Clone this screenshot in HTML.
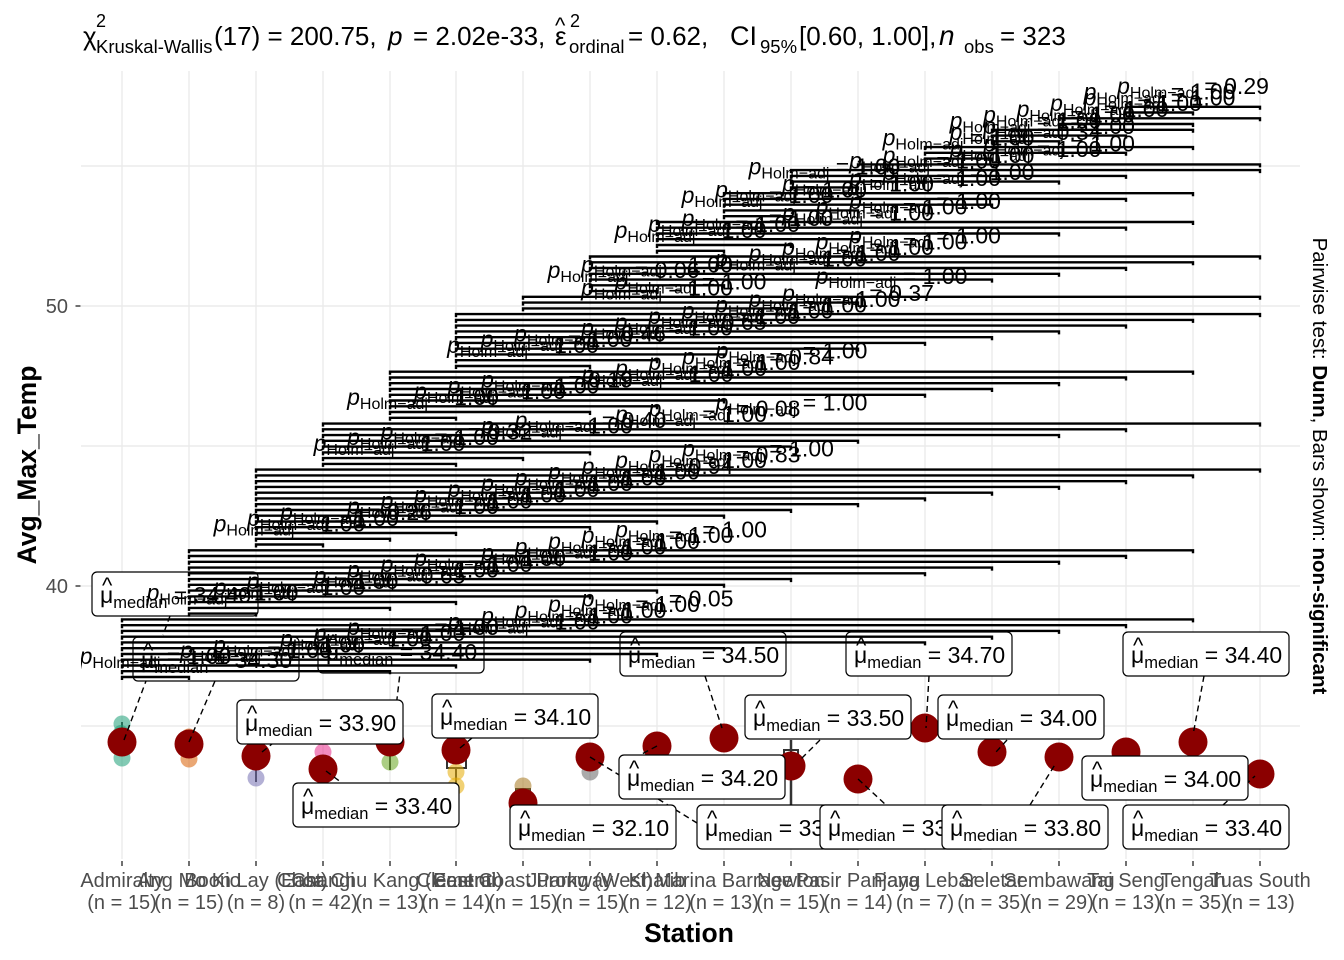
<!DOCTYPE html>
<html><head><meta charset="utf-8"><style>
html,body{margin:0;padding:0;background:#fff}
svg{display:block;font-family:"Liberation Sans",Arial,sans-serif}
.g{stroke:#EBEBEB;stroke-width:1.4}
.br{fill:none;stroke:#000;stroke-width:2.4}
text.p{font-size:23px;text-anchor:middle}
.i{font-style:italic}
.s{font-size:16px}
.s2{font-size:16.5px}
.lb rect{fill:#fff;stroke:#000;stroke-width:1.2}
.lb text{font-size:23px}
.lb text.h{font-size:22px}
.seg{stroke:#000;stroke-width:1.4;stroke-dasharray:6 4;fill:none}
.tk{font-size:20px;fill:#4D4D4D}
.xt{font-size:20px;fill:#4D4D4D;text-anchor:middle}
</style></head><body>
<svg width="1344" height="960" viewBox="0 0 1344 960" xmlns="http://www.w3.org/2000/svg">
<rect width="1344" height="960" fill="#fff"/>
<defs><clipPath id="pc"><rect x="81" y="71" width="1219" height="788"/></clipPath></defs>

<!-- title -->
<g font-size="26">
<text x="83" y="45">χ</text>
<text x="96" y="27" font-size="18">2</text>
<text x="96" y="53" font-size="18.5">Kruskal-Wallis</text>
<text x="214" y="45">(17) = 200.75,</text>
<text x="388" y="45" font-style="italic">p</text>
<text x="413" y="45">= 2.02e-33,</text>
<text x="555" y="45">ε</text>
<text x="555" y="33" font-size="22">^</text>
<text x="570" y="27" font-size="18">2</text>
<text x="569" y="53" font-size="18.5">ordinal</text>
<text x="628" y="45">= 0.62,</text>
<text x="730" y="45" font-size="27">CI</text>
<text x="760" y="53" font-size="18.5">95%</text>
<text x="799" y="45">[0.60, 1.00],</text>
<text x="939" y="45" font-style="italic" font-size="28">n</text>
<text x="964" y="53" font-size="18.5">obs</text>
<text x="1000" y="45">= 323</text>
</g>

<!-- grid -->
<g class="g">
<line x1="81" y1="166" x2="1300" y2="166"/>
<line x1="81" y1="306" x2="1300" y2="306"/>
<line x1="81" y1="446" x2="1300" y2="446"/>
<line x1="81" y1="586" x2="1300" y2="586"/>
<line x1="81" y1="726" x2="1300" y2="726"/>
<line x1="122" y1="71" x2="122" y2="859"/>
<line x1="189" y1="71" x2="189" y2="859"/>
<line x1="256" y1="71" x2="256" y2="859"/>
<line x1="323" y1="71" x2="323" y2="859"/>
<line x1="390" y1="71" x2="390" y2="859"/>
<line x1="456" y1="71" x2="456" y2="859"/>
<line x1="523" y1="71" x2="523" y2="859"/>
<line x1="590" y1="71" x2="590" y2="859"/>
<line x1="657" y1="71" x2="657" y2="859"/>
<line x1="724" y1="71" x2="724" y2="859"/>
<line x1="791" y1="71" x2="791" y2="859"/>
<line x1="858" y1="71" x2="858" y2="859"/>
<line x1="925" y1="71" x2="925" y2="859"/>
<line x1="992" y1="71" x2="992" y2="859"/>
<line x1="1059" y1="71" x2="1059" y2="859"/>
<line x1="1126" y1="71" x2="1126" y2="859"/>
<line x1="1193" y1="71" x2="1193" y2="859"/>
<line x1="1260" y1="71" x2="1260" y2="859"/>
</g>

<!-- axes ticks -->
<g stroke="#333" stroke-width="1.4">
<line x1="75.5" y1="306" x2="80.5" y2="306"/>
<line x1="75.5" y1="586" x2="80.5" y2="586"/>
<path d="M122 861V866M189 861V866M256 861V866M323 861V866M390 861V866M456 861V866M523 861V866M590 861V866M657 861V866M724 861V866M791 861V866M858 861V866M925 861V866M992 861V866M1059 861V866M1126 861V866M1193 861V866M1260 861V866"/>
</g>
<text class="tk" x="68" y="313" text-anchor="end">50</text>
<text class="tk" x="68" y="593" text-anchor="end">40</text>

<g clip-path="url(#pc)">
<!-- boxplot bits & jitter -->
<g stroke="#333" stroke-width="2" fill="none">
<rect x="447" y="757" width="19" height="11"/>
<line x1="456" y1="768" x2="456" y2="792"/>
<line x1="791" y1="740" x2="791" y2="805" stroke-width="2.5"/>
<rect x="784" y="750" width="14" height="16"/>
<rect x="516" y="789" width="14" height="8"/>
<line x1="122" y1="722" x2="122" y2="730"/>
<line x1="256" y1="770" x2="256" y2="782"/>
<line x1="390" y1="756" x2="390" y2="770"/>
</g>
<g fill-opacity="0.55">
<circle cx="122" cy="724" r="8.5" fill="#1B9E77"/>
<circle cx="122" cy="758" r="8.5" fill="#1B9E77"/>
<circle cx="121" cy="733" r="8" fill="#1B9E77"/>
<circle cx="189" cy="737" r="8.5" fill="#D95F02"/>
<circle cx="189" cy="759" r="8.5" fill="#D95F02"/>
<circle cx="256" cy="778" r="8.5" fill="#7570B3"/>
<circle cx="323" cy="752" r="8.5" fill="#E7298A"/>
<circle cx="390" cy="762" r="8.5" fill="#66A61E"/>
<circle cx="456" cy="772" r="8.5" fill="#E6AB02"/>
<circle cx="456" cy="786" r="8.5" fill="#E6AB02"/>
<circle cx="523" cy="786" r="8.5" fill="#A6761D"/>
<circle cx="590" cy="772" r="8.5" fill="#666666"/>
</g>
<!-- median points -->
<g fill="#8B0000">
<circle cx="122" cy="742" r="14.5"/>
<circle cx="189" cy="744" r="14.5"/>
<circle cx="256" cy="756" r="14.5"/>
<circle cx="323" cy="769" r="14.5"/>
<circle cx="390" cy="742" r="14.5"/>
<circle cx="456" cy="750" r="14.5"/>
<circle cx="523" cy="803" r="14.5"/>
<circle cx="590" cy="757" r="14.5"/>
<circle cx="657" cy="746" r="14.5"/>
<circle cx="724" cy="738" r="14.5"/>
<circle cx="791" cy="766" r="14.5"/>
<circle cx="858" cy="779" r="14.5"/>
<circle cx="925" cy="728" r="14.5"/>
<circle cx="992" cy="752" r="14.5"/>
<circle cx="1059" cy="757" r="14.5"/>
<circle cx="1126" cy="752" r="14.5"/>
<circle cx="1193" cy="742" r="14.5"/>
<circle cx="1260" cy="774" r="14.5"/>
</g>

<!-- label segments -->
<path class="seg" d="M124 740L146 681M189 742L215 681M170 616L163 635M262 752L272 744M326 771L342 783M392 742L400 673M460 748L472 738M590 757L697 823M657 746L640 755M705 676L722 728M820 740L800 760M858 779L886 805M929 676L926 728M1007 740L996 752M1030 805L1056 763M1204 676L1193 735M1223 805L1255 776"/>

<!-- median labels -->
<g class="lb">
<rect x="133" y="637" width="166" height="44" rx="5"/><text class="h" x="143" y="658">^</text><text x="141" y="668">μ<tspan class="s2" dy="5">median</tspan><tspan dy="-5"> = 34.30</tspan></text>
<rect x="92" y="572" width="166" height="44" rx="5"/><text class="h" x="102" y="593">^</text><text x="100" y="603">μ<tspan class="s2" dy="5">median</tspan><tspan dy="-5"> = 34.40</tspan></text>
<rect x="237" y="700" width="166" height="44" rx="5"/><text class="h" x="247" y="721">^</text><text x="245" y="731">μ<tspan class="s2" dy="5">median</tspan><tspan dy="-5"> = 33.90</tspan></text>
<rect x="293" y="783" width="166" height="44" rx="5"/><text class="h" x="303" y="804">^</text><text x="301" y="814">μ<tspan class="s2" dy="5">median</tspan><tspan dy="-5"> = 33.40</tspan></text>
<rect x="318" y="629" width="166" height="44" rx="5"/><text class="h" x="328" y="650">^</text><text x="326" y="660">μ<tspan class="s2" dy="5">median</tspan><tspan dy="-5"> = 34.40</tspan></text>
<rect x="432" y="694" width="166" height="44" rx="5"/><text class="h" x="442" y="715">^</text><text x="440" y="725">μ<tspan class="s2" dy="5">median</tspan><tspan dy="-5"> = 34.10</tspan></text>
<rect x="510" y="805" width="166" height="44" rx="5"/><text class="h" x="520" y="826">^</text><text x="518" y="836">μ<tspan class="s2" dy="5">median</tspan><tspan dy="-5"> = 32.10</tspan></text>
<rect x="619" y="755" width="166" height="44" rx="5"/><text class="h" x="629" y="776">^</text><text x="627" y="786">μ<tspan class="s2" dy="5">median</tspan><tspan dy="-5"> = 34.20</tspan></text>
<rect x="697" y="805" width="166" height="44" rx="5"/><text class="h" x="707" y="826">^</text><text x="705" y="836">μ<tspan class="s2" dy="5">median</tspan><tspan dy="-5"> = 33.80</tspan></text>
<rect x="620" y="632" width="166" height="44" rx="5"/><text class="h" x="630" y="653">^</text><text x="628" y="663">μ<tspan class="s2" dy="5">median</tspan><tspan dy="-5"> = 34.50</tspan></text>
<rect x="745" y="695" width="166" height="44" rx="5"/><text class="h" x="755" y="716">^</text><text x="753" y="726">μ<tspan class="s2" dy="5">median</tspan><tspan dy="-5"> = 33.50</tspan></text>
<rect x="820" y="805" width="166" height="44" rx="5"/><text class="h" x="830" y="826">^</text><text x="828" y="836">μ<tspan class="s2" dy="5">median</tspan><tspan dy="-5"> = 33.60</tspan></text>
<rect x="846" y="632" width="166" height="44" rx="5"/><text class="h" x="856" y="653">^</text><text x="854" y="663">μ<tspan class="s2" dy="5">median</tspan><tspan dy="-5"> = 34.70</tspan></text>
<rect x="938" y="695" width="166" height="44" rx="5"/><text class="h" x="948" y="716">^</text><text x="946" y="726">μ<tspan class="s2" dy="5">median</tspan><tspan dy="-5"> = 34.00</tspan></text>
<rect x="942" y="805" width="166" height="44" rx="5"/><text class="h" x="952" y="826">^</text><text x="950" y="836">μ<tspan class="s2" dy="5">median</tspan><tspan dy="-5"> = 33.80</tspan></text>
<rect x="1082" y="756" width="166" height="44" rx="5"/><text class="h" x="1092" y="777">^</text><text x="1090" y="787">μ<tspan class="s2" dy="5">median</tspan><tspan dy="-5"> = 34.00</tspan></text>
<rect x="1123" y="632" width="166" height="44" rx="5"/><text class="h" x="1133" y="653">^</text><text x="1131" y="663">μ<tspan class="s2" dy="5">median</tspan><tspan dy="-5"> = 34.40</tspan></text>
<rect x="1123" y="805" width="166" height="44" rx="5"/><text class="h" x="1133" y="826">^</text><text x="1131" y="836">μ<tspan class="s2" dy="5">median</tspan><tspan dy="-5"> = 33.40</tspan></text>
</g>

<!-- brackets -->
<path class="br" d="M122 680V677H189V680M122 674.2V671.2H390V674.2M122 668.5V665.5H456V668.5M122 662.7V659.7H590V662.7M122 657V654H657V657M122 651.2V648.2H724V651.2M122 645.4V642.4H925V645.4M122 639.7V636.7H992V639.7M122 633.9V630.9H1059V633.9M122 628.2V625.2H1126V628.2M122 622.4V619.4H1193V622.4M189 616.6V613.6H256V616.6M189 610.9V607.9H390V610.9M189 605.1V602.1H456V605.1M189 599.4V596.4H590V599.4M189 593.6V590.6H657V593.6M189 587.8V584.8H724V587.8M189 582.1V579.1H791V582.1M189 576.3V573.3H925V576.3M189 570.6V567.6H992V570.6M189 564.8V561.8H1059V564.8M189 559V556H1126V559M189 553.3V550.3H1193V553.3M256 547.5V544.5H323V547.5M256 541.8V538.8H390V541.8M256 536V533H456V536M256 530.2V527.2H590V530.2M256 524.5V521.5H657V524.5M256 518.7V515.7H724V518.7M256 513V510H791V513M256 507.2V504.2H858V507.2M256 501.4V498.4H925V501.4M256 495.7V492.7H992V495.7M256 489.9V486.9H1059V489.9M256 484.2V481.2H1126V484.2M256 478.4V475.4H1193V478.4M256 472.6V469.6H1260V472.6M323 466.9V463.9H456V466.9M323 461.1V458.1H523V461.1M323 455.4V452.4H590V455.4M323 449.6V446.6H791V449.6M323 443.8V440.8H858V443.8M323 438.1V435.1H1059V438.1M323 432.3V429.3H1126V432.3M323 426.6V423.6H1260V426.6M390 420.8V417.8H456V420.8M390 415V412H590V415M390 409.3V406.3H657V409.3M390 403.5V400.5H724V403.5M390 397.8V394.8H925V397.8M390 392V389H992V392M390 386.2V383.2H1059V386.2M390 380.5V377.5H1126V380.5M390 374.7V371.7H1193V374.7M456 369V366H590V369M456 363.2V360.2H657V363.2M456 357.4V354.4H724V357.4M456 351.7V348.7H858V351.7M456 345.9V342.9H925V345.9M456 340.2V337.2H992V340.2M456 334.4V331.4H1059V334.4M456 328.6V325.6H1126V328.6M456 322.9V319.9H1193V322.9M456 317.1V314.1H1260V317.1M523 311.4V308.4H791V311.4M523 305.6V302.6H858V305.6M523 299.8V296.8H1260V299.8M590 294.1V291.1H657V294.1M590 288.3V285.3H724V288.3M590 282.6V279.6H992V282.6M590 276.8V273.8H1059V276.8M590 271V268H1126V271M590 265.3V262.3H1193V265.3M590 259.5V256.5H1260V259.5M657 253.8V250.8H724V253.8M657 248V245H791V248M657 242.2V239.2H858V242.2M657 236.5V233.5H1059V236.5M657 230.7V227.7H1126V230.7M657 225V222H1193V225M724 219.2V216.2H791V219.2M724 213.4V210.4H858V213.4M724 207.7V204.7H992V207.7M724 201.9V198.9H1126V201.9M724 196.2V193.2H1193V196.2M791 190.4V187.4H858V190.4M791 184.6V181.6H1059V184.6M791 178.9V175.9H1126V178.9M791 173.1V170.1H1260V173.1M858 167.4V164.4H1260V167.4M925 161.6V158.6H992V161.6M925 155.8V152.8H1126V155.8M925 150.1V147.1H1193V150.1M992 144.3V141.3H1059V144.3M992 138.6V135.6H1126V138.6M992 132.8V129.8H1193V132.8M1059 127V124H1193V127M1059 121.3V118.3H1260V121.3M1126 115.5V112.5H1193V115.5M1126 109.8V106.8H1260V109.8"/>

<!-- bracket labels -->
<g>
<text class="p" x="155.5" y="664"><tspan class="i">p</tspan><tspan class="s" dy="4">Holm−adj</tspan><tspan dy="-4"> = 1.00</tspan></text>
<text class="p" x="256" y="658.2"><tspan class="i">p</tspan><tspan class="s" dy="4">Holm−adj</tspan><tspan dy="-4"> = 1.00</tspan></text>
<text class="p" x="289" y="652.5"><tspan class="i">p</tspan><tspan class="s" dy="4">Holm−adj</tspan><tspan dy="-4"> = 1.00</tspan></text>
<text class="p" x="356" y="646.7"><tspan class="i">p</tspan><tspan class="s" dy="4">Holm−adj</tspan><tspan dy="-4"> = 1.00</tspan></text>
<text class="p" x="389.5" y="641"><tspan class="i">p</tspan><tspan class="s" dy="4">Holm−adj</tspan><tspan dy="-4"> = 1.00</tspan></text>
<text class="p" x="423" y="635.2"><tspan class="i">p</tspan><tspan class="s" dy="4">Holm−adj</tspan><tspan dy="-4"> = 1.00</tspan></text>
<text class="p" x="523.5" y="629.4"><tspan class="i">p</tspan><tspan class="s" dy="4">Holm−adj</tspan><tspan dy="-4"> = 1.00</tspan></text>
<text class="p" x="557" y="623.7"><tspan class="i">p</tspan><tspan class="s" dy="4">Holm−adj</tspan><tspan dy="-4"> = 1.00</tspan></text>
<text class="p" x="590.5" y="617.9"><tspan class="i">p</tspan><tspan class="s" dy="4">Holm−adj</tspan><tspan dy="-4"> = 1.00</tspan></text>
<text class="p" x="624" y="612.2"><tspan class="i">p</tspan><tspan class="s" dy="4">Holm−adj</tspan><tspan dy="-4"> = 1.00</tspan></text>
<text class="p" x="657.5" y="606.4"><tspan class="i">p</tspan><tspan class="s" dy="4">Holm−adj</tspan><tspan dy="-4"> = 0.05</tspan></text>
<text class="p" x="222.5" y="600.6"><tspan class="i">p</tspan><tspan class="s" dy="4">Holm−adj</tspan><tspan dy="-4"> = 1.00</tspan></text>
<text class="p" x="289.5" y="594.9"><tspan class="i">p</tspan><tspan class="s" dy="4">Holm−adj</tspan><tspan dy="-4"> = 1.00</tspan></text>
<text class="p" x="322.5" y="589.1"><tspan class="i">p</tspan><tspan class="s" dy="4">Holm−adj</tspan><tspan dy="-4"> = 1.00</tspan></text>
<text class="p" x="389.5" y="583.4"><tspan class="i">p</tspan><tspan class="s" dy="4">Holm−adj</tspan><tspan dy="-4"> = 0.65</tspan></text>
<text class="p" x="423" y="577.6"><tspan class="i">p</tspan><tspan class="s" dy="4">Holm−adj</tspan><tspan dy="-4"> = 1.00</tspan></text>
<text class="p" x="456.5" y="571.8"><tspan class="i">p</tspan><tspan class="s" dy="4">Holm−adj</tspan><tspan dy="-4"> = 1.00</tspan></text>
<text class="p" x="490" y="566.1"><tspan class="i">p</tspan><tspan class="s" dy="4">Holm−adj</tspan><tspan dy="-4"> = 1.00</tspan></text>
<text class="p" x="557" y="560.3"><tspan class="i">p</tspan><tspan class="s" dy="4">Holm−adj</tspan><tspan dy="-4"> = 1.00</tspan></text>
<text class="p" x="590.5" y="554.6"><tspan class="i">p</tspan><tspan class="s" dy="4">Holm−adj</tspan><tspan dy="-4"> = 1.00</tspan></text>
<text class="p" x="624" y="548.8"><tspan class="i">p</tspan><tspan class="s" dy="4">Holm−adj</tspan><tspan dy="-4"> = 1.00</tspan></text>
<text class="p" x="657.5" y="543"><tspan class="i">p</tspan><tspan class="s" dy="4">Holm−adj</tspan><tspan dy="-4"> = 1.00</tspan></text>
<text class="p" x="691" y="537.3"><tspan class="i">p</tspan><tspan class="s" dy="4">Holm−adj</tspan><tspan dy="-4"> = 1.00</tspan></text>
<text class="p" x="289.5" y="531.5"><tspan class="i">p</tspan><tspan class="s" dy="4">Holm−adj</tspan><tspan dy="-4"> = 1.00</tspan></text>
<text class="p" x="323" y="525.8"><tspan class="i">p</tspan><tspan class="s" dy="4">Holm−adj</tspan><tspan dy="-4"> = 1.00</tspan></text>
<text class="p" x="356" y="520"><tspan class="i">p</tspan><tspan class="s" dy="4">Holm−adj</tspan><tspan dy="-4"> = 0.26</tspan></text>
<text class="p" x="423" y="514.2"><tspan class="i">p</tspan><tspan class="s" dy="4">Holm−adj</tspan><tspan dy="-4"> = 1.00</tspan></text>
<text class="p" x="456.5" y="508.5"><tspan class="i">p</tspan><tspan class="s" dy="4">Holm−adj</tspan><tspan dy="-4"> = 1.00</tspan></text>
<text class="p" x="490" y="502.7"><tspan class="i">p</tspan><tspan class="s" dy="4">Holm−adj</tspan><tspan dy="-4"> = 1.00</tspan></text>
<text class="p" x="523.5" y="497"><tspan class="i">p</tspan><tspan class="s" dy="4">Holm−adj</tspan><tspan dy="-4"> = 1.00</tspan></text>
<text class="p" x="557" y="491.2"><tspan class="i">p</tspan><tspan class="s" dy="4">Holm−adj</tspan><tspan dy="-4"> = 1.00</tspan></text>
<text class="p" x="590.5" y="485.4"><tspan class="i">p</tspan><tspan class="s" dy="4">Holm−adj</tspan><tspan dy="-4"> = 1.00</tspan></text>
<text class="p" x="624" y="479.7"><tspan class="i">p</tspan><tspan class="s" dy="4">Holm−adj</tspan><tspan dy="-4"> = 1.00</tspan></text>
<text class="p" x="657.5" y="473.9"><tspan class="i">p</tspan><tspan class="s" dy="4">Holm−adj</tspan><tspan dy="-4"> = 0.94</tspan></text>
<text class="p" x="691" y="468.2"><tspan class="i">p</tspan><tspan class="s" dy="4">Holm−adj</tspan><tspan dy="-4"> = 1.00</tspan></text>
<text class="p" x="724.5" y="462.4"><tspan class="i">p</tspan><tspan class="s" dy="4">Holm−adj</tspan><tspan dy="-4"> = 0.83</tspan></text>
<text class="p" x="758" y="456.6"><tspan class="i">p</tspan><tspan class="s" dy="4">Holm−adj</tspan><tspan dy="-4"> = 1.00</tspan></text>
<text class="p" x="389.5" y="450.9"><tspan class="i">p</tspan><tspan class="s" dy="4">Holm−adj</tspan><tspan dy="-4"> = 1.00</tspan></text>
<text class="p" x="423" y="445.1"><tspan class="i">p</tspan><tspan class="s" dy="4">Holm−adj</tspan><tspan dy="-4"> = 1.00</tspan></text>
<text class="p" x="456.5" y="439.4"><tspan class="i">p</tspan><tspan class="s" dy="4">Holm−adj</tspan><tspan dy="-4"> = 0.32</tspan></text>
<text class="p" x="557" y="433.6"><tspan class="i">p</tspan><tspan class="s" dy="4">Holm−adj</tspan><tspan dy="-4"> = 1.00</tspan></text>
<text class="p" x="590.5" y="427.8"><tspan class="i">p</tspan><tspan class="s" dy="4">Holm−adj</tspan><tspan dy="-4"> = 0.40</tspan></text>
<text class="p" x="691" y="422.1"><tspan class="i">p</tspan><tspan class="s" dy="4">Holm−adj</tspan><tspan dy="-4"> = 1.00</tspan></text>
<text class="p" x="724.5" y="416.3"><tspan class="i">p</tspan><tspan class="s" dy="4">Holm−adj</tspan><tspan dy="-4"> = 0.08</tspan></text>
<text class="p" x="791.5" y="410.6"><tspan class="i">p</tspan><tspan class="s" dy="4">Holm−adj</tspan><tspan dy="-4"> = 1.00</tspan></text>
<text class="p" x="423" y="404.8"><tspan class="i">p</tspan><tspan class="s" dy="4">Holm−adj</tspan><tspan dy="-4"> = 1.00</tspan></text>
<text class="p" x="490" y="399"><tspan class="i">p</tspan><tspan class="s" dy="4">Holm−adj</tspan><tspan dy="-4"> = 1.00</tspan></text>
<text class="p" x="523.5" y="393.3"><tspan class="i">p</tspan><tspan class="s" dy="4">Holm−adj</tspan><tspan dy="-4"> = 1.00</tspan></text>
<text class="p" x="557" y="387.5"><tspan class="i">p</tspan><tspan class="s" dy="4">Holm−adj</tspan><tspan dy="-4"> = 0.19</tspan></text>
<text class="p" x="657.5" y="381.8"><tspan class="i">p</tspan><tspan class="s" dy="4">Holm−adj</tspan><tspan dy="-4"> = 1.00</tspan></text>
<text class="p" x="691" y="376"><tspan class="i">p</tspan><tspan class="s" dy="4">Holm−adj</tspan><tspan dy="-4"> = 1.00</tspan></text>
<text class="p" x="724.5" y="370.2"><tspan class="i">p</tspan><tspan class="s" dy="4">Holm−adj</tspan><tspan dy="-4"> = 1.00</tspan></text>
<text class="p" x="758" y="364.5"><tspan class="i">p</tspan><tspan class="s" dy="4">Holm−adj</tspan><tspan dy="-4"> = 0.84</tspan></text>
<text class="p" x="791.5" y="358.7"><tspan class="i">p</tspan><tspan class="s" dy="4">Holm−adj</tspan><tspan dy="-4"> = 1.00</tspan></text>
<text class="p" x="523" y="353"><tspan class="i">p</tspan><tspan class="s" dy="4">Holm−adj</tspan><tspan dy="-4"> = 1.00</tspan></text>
<text class="p" x="556.5" y="347.2"><tspan class="i">p</tspan><tspan class="s" dy="4">Holm−adj</tspan><tspan dy="-4"> = 1.00</tspan></text>
<text class="p" x="590" y="341.4"><tspan class="i">p</tspan><tspan class="s" dy="4">Holm−adj</tspan><tspan dy="-4"> = 0.46</tspan></text>
<text class="p" x="657" y="335.7"><tspan class="i">p</tspan><tspan class="s" dy="4">Holm−adj</tspan><tspan dy="-4"> = 1.00</tspan></text>
<text class="p" x="690.5" y="329.9"><tspan class="i">p</tspan><tspan class="s" dy="4">Holm−adj</tspan><tspan dy="-4"> = 0.65</tspan></text>
<text class="p" x="724" y="324.2"><tspan class="i">p</tspan><tspan class="s" dy="4">Holm−adj</tspan><tspan dy="-4"> = 1.00</tspan></text>
<text class="p" x="757.5" y="318.4"><tspan class="i">p</tspan><tspan class="s" dy="4">Holm−adj</tspan><tspan dy="-4"> = 1.00</tspan></text>
<text class="p" x="791" y="312.6"><tspan class="i">p</tspan><tspan class="s" dy="4">Holm−adj</tspan><tspan dy="-4"> = 1.00</tspan></text>
<text class="p" x="824.5" y="306.9"><tspan class="i">p</tspan><tspan class="s" dy="4">Holm−adj</tspan><tspan dy="-4"> = 1.00</tspan></text>
<text class="p" x="858" y="301.1"><tspan class="i">p</tspan><tspan class="s" dy="4">Holm−adj</tspan><tspan dy="-4"> = 0.37</tspan></text>
<text class="p" x="657" y="295.4"><tspan class="i">p</tspan><tspan class="s" dy="4">Holm−adj</tspan><tspan dy="-4"> = 1.00</tspan></text>
<text class="p" x="690.5" y="289.6"><tspan class="i">p</tspan><tspan class="s" dy="4">Holm−adj</tspan><tspan dy="-4"> = 1.00</tspan></text>
<text class="p" x="891.5" y="283.8"><tspan class="i">p</tspan><tspan class="s" dy="4">Holm−adj</tspan><tspan dy="-4"> = 1.00</tspan></text>
<text class="p" x="623.5" y="278.1"><tspan class="i">p</tspan><tspan class="s" dy="4">Holm−adj</tspan><tspan dy="-4"> = 0.06</tspan></text>
<text class="p" x="657" y="272.3"><tspan class="i">p</tspan><tspan class="s" dy="4">Holm−adj</tspan><tspan dy="-4"> = 1.00</tspan></text>
<text class="p" x="791" y="266.6"><tspan class="i">p</tspan><tspan class="s" dy="4">Holm−adj</tspan><tspan dy="-4"> = 1.00</tspan></text>
<text class="p" x="824.5" y="260.8"><tspan class="i">p</tspan><tspan class="s" dy="4">Holm−adj</tspan><tspan dy="-4"> = 1.00</tspan></text>
<text class="p" x="858" y="255"><tspan class="i">p</tspan><tspan class="s" dy="4">Holm−adj</tspan><tspan dy="-4"> = 1.00</tspan></text>
<text class="p" x="891.5" y="249.3"><tspan class="i">p</tspan><tspan class="s" dy="4">Holm−adj</tspan><tspan dy="-4"> = 1.00</tspan></text>
<text class="p" x="925" y="243.5"><tspan class="i">p</tspan><tspan class="s" dy="4">Holm−adj</tspan><tspan dy="-4"> = 1.00</tspan></text>
<text class="p" x="690.5" y="237.8"><tspan class="i">p</tspan><tspan class="s" dy="4">Holm−adj</tspan><tspan dy="-4"> = 1.00</tspan></text>
<text class="p" x="724" y="232"><tspan class="i">p</tspan><tspan class="s" dy="4">Holm−adj</tspan><tspan dy="-4"> = 1.00</tspan></text>
<text class="p" x="757.5" y="226.2"><tspan class="i">p</tspan><tspan class="s" dy="4">Holm−adj</tspan><tspan dy="-4"> = 1.00</tspan></text>
<text class="p" x="858" y="220.5"><tspan class="i">p</tspan><tspan class="s" dy="4">Holm−adj</tspan><tspan dy="-4"> = 1.00</tspan></text>
<text class="p" x="891.5" y="214.7"><tspan class="i">p</tspan><tspan class="s" dy="4">Holm−adj</tspan><tspan dy="-4"> = 1.00</tspan></text>
<text class="p" x="925" y="209"><tspan class="i">p</tspan><tspan class="s" dy="4">Holm−adj</tspan><tspan dy="-4"> = 1.00</tspan></text>
<text class="p" x="757.5" y="203.2"><tspan class="i">p</tspan><tspan class="s" dy="4">Holm−adj</tspan><tspan dy="-4"> = 1.00</tspan></text>
<text class="p" x="791" y="197.4"><tspan class="i">p</tspan><tspan class="s" dy="4">Holm−adj</tspan><tspan dy="-4"> = 1.00</tspan></text>
<text class="p" x="858" y="191.7"><tspan class="i">p</tspan><tspan class="s" dy="4">Holm−adj</tspan><tspan dy="-4"> = 1.00</tspan></text>
<text class="p" x="925" y="185.9"><tspan class="i">p</tspan><tspan class="s" dy="4">Holm−adj</tspan><tspan dy="-4"> = 1.00</tspan></text>
<text class="p" x="958.5" y="180.2"><tspan class="i">p</tspan><tspan class="s" dy="4">Holm−adj</tspan><tspan dy="-4"> = 1.00</tspan></text>
<text class="p" x="824.5" y="174.4"><tspan class="i">p</tspan><tspan class="s" dy="4">Holm−adj</tspan><tspan dy="-4"> = 1.00</tspan></text>
<text class="p" x="925" y="168.6"><tspan class="i">p</tspan><tspan class="s" dy="4">Holm−adj</tspan><tspan dy="-4"> = 1.00</tspan></text>
<text class="p" x="958.5" y="162.9"><tspan class="i">p</tspan><tspan class="s" dy="4">Holm−adj</tspan><tspan dy="-4"> = 1.00</tspan></text>
<text class="p" x="1025.5" y="157.1"><tspan class="i">p</tspan><tspan class="s" dy="4">Holm−adj</tspan><tspan dy="-4"> = 1.00</tspan></text>
<text class="p" x="1059" y="151.4"><tspan class="i">p</tspan><tspan class="s" dy="4">Holm−adj</tspan><tspan dy="-4"> = 1.00</tspan></text>
<text class="p" x="958.5" y="145.6"><tspan class="i">p</tspan><tspan class="s" dy="4">Holm−adj</tspan><tspan dy="-4"> = 1.00</tspan></text>
<text class="p" x="1025.5" y="139.8"><tspan class="i">p</tspan><tspan class="s" dy="4">Holm−adj</tspan><tspan dy="-4"> = 0.34</tspan></text>
<text class="p" x="1059" y="134.1"><tspan class="i">p</tspan><tspan class="s" dy="4">Holm−adj</tspan><tspan dy="-4"> = 1.00</tspan></text>
<text class="p" x="1025.5" y="128.3"><tspan class="i">p</tspan><tspan class="s" dy="4">Holm−adj</tspan><tspan dy="-4"> = 1.00</tspan></text>
<text class="p" x="1059" y="122.6"><tspan class="i">p</tspan><tspan class="s" dy="4">Holm−adj</tspan><tspan dy="-4"> = 1.00</tspan></text>
<text class="p" x="1092.5" y="116.8"><tspan class="i">p</tspan><tspan class="s" dy="4">Holm−adj</tspan><tspan dy="-4"> = 1.00</tspan></text>
<text class="p" x="1126" y="111"><tspan class="i">p</tspan><tspan class="s" dy="4">Holm−adj</tspan><tspan dy="-4"> = 1.00</tspan></text>
<text class="p" x="1159.5" y="105.3"><tspan class="i">p</tspan><tspan class="s" dy="4">Holm−adj</tspan><tspan dy="-4"> = 1.00</tspan></text>
<text class="p" x="1159.5" y="99.5"><tspan class="i">p</tspan><tspan class="s" dy="4">Holm−adj</tspan><tspan dy="-4"> = 1.00</tspan></text>
<text class="p" x="1193" y="93.8"><tspan class="i">p</tspan><tspan class="s" dy="4">Holm−adj</tspan><tspan dy="-4"> = 0.29</tspan></text>
</g>
</g>

<!-- x tick labels -->
<g class="xt">
<text x="122" y="887">Admiralty</text><text x="122" y="909">(n = 15)</text>
<text x="189" y="887">Ang Mo Kio</text><text x="189" y="909">(n = 15)</text>
<text x="256" y="887">Boon Lay (East)</text><text x="256" y="909">(n = 8)</text>
<text x="323" y="887">Changi</text><text x="323" y="909">(n = 42)</text>
<text x="390" y="887">Choa Chu Kang (Central)</text><text x="390" y="909">(n = 13)</text>
<text x="456" y="887">Clementi</text><text x="456" y="909">(n = 14)</text>
<text x="523" y="887">East Coast Parkway</text><text x="523" y="909">(n = 15)</text>
<text x="590" y="887">Jurong (West)</text><text x="590" y="909">(n = 15)</text>
<text x="657" y="887">Khatib</text><text x="657" y="909">(n = 12)</text>
<text x="724" y="887">Marina Barrage</text><text x="724" y="909">(n = 13)</text>
<text x="791" y="887">Newton</text><text x="791" y="909">(n = 15)</text>
<text x="858" y="887">Pasir Panjang</text><text x="858" y="909">(n = 14)</text>
<text x="925" y="887">Paya Lebar</text><text x="925" y="909">(n = 7)</text>
<text x="992" y="887">Seletar</text><text x="992" y="909">(n = 35)</text>
<text x="1059" y="887">Sembawang</text><text x="1059" y="909">(n = 29)</text>
<text x="1126" y="887">Tai Seng</text><text x="1126" y="909">(n = 13)</text>
<text x="1193" y="887">Tengah</text><text x="1193" y="909">(n = 35)</text>
<text x="1260" y="887">Tuas South</text><text x="1260" y="909">(n = 13)</text>
</g>

<!-- axis titles -->
<text x="689" y="942" font-size="26.5" font-weight="bold" text-anchor="middle">Station</text>
<text transform="translate(36,465) rotate(-90)" font-size="26.5" font-weight="bold" text-anchor="middle">Avg_Max_Temp</text>
<text transform="translate(1313,466) rotate(90)" font-size="20.5" text-anchor="middle">Pairwise test: <tspan font-weight="bold">Dunn</tspan>, Bars shown: <tspan font-weight="bold">non-significant</tspan></text>
</svg>
</body></html>
